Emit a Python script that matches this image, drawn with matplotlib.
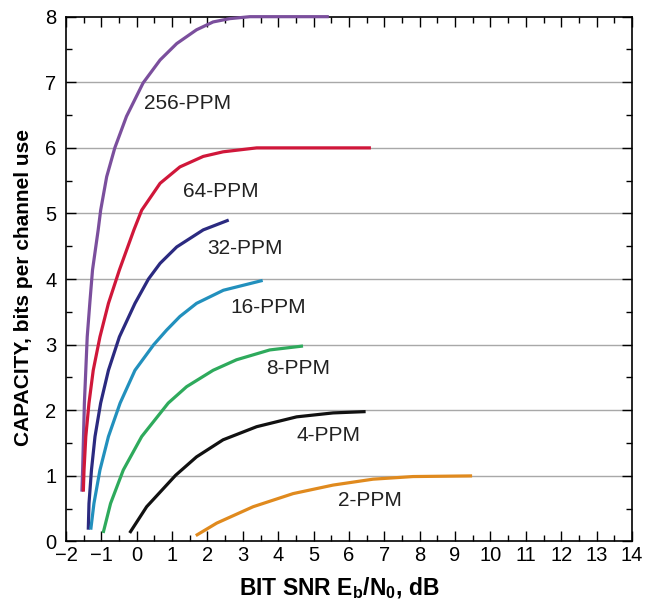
import matplotlib
matplotlib.use("Agg")
import matplotlib.pyplot as plt
from matplotlib.ticker import MultipleLocator

plt.rcParams['font.family'] = ['Liberation Sans', 'DejaVu Sans']

# curves: (Eb/N0 dB, capacity bits)
ppm256_x = [-1.55, -1.53, -1.48, -1.40, -1.32, -1.25, -1.09, -1.02, -0.85, -0.62, -0.29, 0.18, 0.66, 1.13, 1.69, 2.16, 2.63, 3.2, 5.43]
ppm256_y = [0.76, 1.09, 2.11, 3.12, 3.68, 4.14, 4.75, 5.05, 5.56, 6.00, 6.48, 6.99, 7.34, 7.59, 7.80, 7.92, 7.97, 8.0, 8.0]

ppm64_x = [-1.51, -1.49, -1.44, -1.35, -1.23, -1.04, -0.80, -0.49, -0.08, 0.14, 0.66, 1.22, 1.88, 2.44, 3.39, 6.62]
ppm64_y = [0.76, 1.09, 1.60, 2.11, 2.61, 3.12, 3.63, 4.14, 4.75, 5.05, 5.46, 5.71, 5.87, 5.94, 6.00, 6.00]

ppm32_x = [-1.37, -1.35, -1.28, -1.18, -1.02, -0.80, -0.49, -0.05, 0.33, 0.66, 1.13, 1.88, 2.60]
ppm32_y = [0.18, 0.58, 1.09, 1.60, 2.11, 2.61, 3.12, 3.63, 4.00, 4.24, 4.49, 4.75, 4.90]

ppm16_x = [-1.30, -1.21, -1.04, -0.80, -0.47, -0.05, 0.48, 0.84, 1.22, 1.69, 2.45, 3.56]
ppm16_y = [0.18, 0.58, 1.09, 1.60, 2.11, 2.61, 3.00, 3.22, 3.43, 3.63, 3.83, 3.98]

ppm8_x = [-0.95, -0.74, -0.38, 0.14, 0.89, 1.41, 2.16, 2.82, 3.76, 4.70]
ppm8_y = [0.13, 0.58, 1.09, 1.60, 2.11, 2.36, 2.61, 2.77, 2.92, 2.98]

ppm4_x = [-0.20, 0.28, 1.10, 1.69, 2.44, 3.39, 4.52, 5.55, 6.47]
ppm4_y = [0.13, 0.53, 1.01, 1.29, 1.55, 1.75, 1.90, 1.96, 1.98]

ppm2_x = [1.67, 2.26, 3.29, 4.42, 5.55, 6.68, 7.81, 9.48]
ppm2_y = [0.09, 0.28, 0.53, 0.73, 0.86, 0.95, 0.99, 1.00]

labels = ['256-PPM', '64-PPM', '32-PPM', '16-PPM', '8-PPM', '4-PPM', '2-PPM']
label_x = [1.45, 2.38, 3.06, 3.71, 4.55, 5.43, 6.59]
label_y = [6.68, 5.34, 4.46, 3.57, 2.63, 1.61, 0.63]
colors = ['#7b4f9d', '#d0173a', '#2b2a80', '#2290bd', '#2eaa5c', '#111111', '#e08a1e']

curves = [(ppm256_x, ppm256_y), (ppm64_x, ppm64_y), (ppm32_x, ppm32_y),
          (ppm16_x, ppm16_y), (ppm8_x, ppm8_y), (ppm4_x, ppm4_y), (ppm2_x, ppm2_y)]

fig = plt.figure(figsize=(6.56, 6.02), dpi=100)
ax = fig.add_axes([0.1006, 0.1005, 0.8628, 0.8718])

for yy in range(1, 8):
    ax.axhline(yy, color='#a8a8a8', linewidth=1.0, zorder=1)

for (xs, ys), c in zip(curves, colors):
    ax.plot(xs, ys, color=c, linewidth=2.3, solid_capstyle='butt',
            solid_joinstyle='round', zorder=3, clip_on=False)

for t, lx, ly in zip(labels, label_x, label_y):
    ax.text(lx, ly, t, fontsize=15, ha='center', va='center', color='#222222')

ax.set_xlim(-2, 14)
ax.set_ylim(0, 8)
ax.xaxis.set_major_locator(MultipleLocator(1))
ax.xaxis.set_minor_locator(MultipleLocator(0.5))
ax.yaxis.set_major_locator(MultipleLocator(1))
ax.yaxis.set_minor_locator(MultipleLocator(0.5))
ax.tick_params(which='both', direction='in', top=True, right=True, width=1.0, labelsize=14.5)
ax.tick_params(which='major', length=7)
ax.tick_params(which='minor', length=4)
ax.tick_params(axis='y', pad=7)
for s in ax.spines.values():
    s.set_linewidth(1.2)

ax.set_xlabel('BIT SNR E$_\\mathregular{b}$/N$_\\mathregular{0}$, dB', fontsize=16.5, fontweight='bold')
ax.set_ylabel('CAPACITY, bits per channel use', fontsize=15, fontweight='bold')
ax.xaxis.set_label_coords(0.482, -0.064)
ax.yaxis.set_label_coords(-0.058, 0.484)

fig.savefig('out.png', dpi=100)
